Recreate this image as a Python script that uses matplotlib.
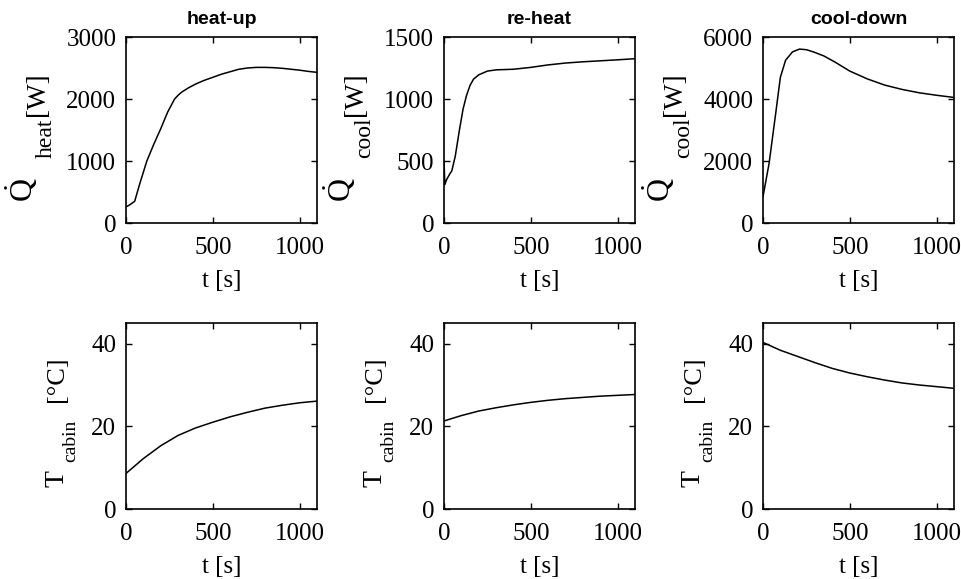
import matplotlib
matplotlib.use("Agg")
import matplotlib.pyplot as plt

plt.rcParams["font.family"] = ["Liberation Serif", "DejaVu Serif"]
plt.rcParams["mathtext.fontset"] = "custom"
plt.rcParams["mathtext.rm"] = "Liberation Serif"
plt.rcParams["mathtext.it"] = "Liberation Serif:italic"
plt.rcParams["mathtext.bf"] = "Liberation Serif:bold"

# heat-up
t_heat = [0, 20, 50, 80, 120, 160, 200, 240, 280, 300, 320, 360, 400, 450, 500,
          550, 600, 650, 700, 750, 800, 850, 900, 950, 1000, 1050, 1100]
q_heat = [260, 290, 350, 640, 1000, 1270, 1520, 1790, 2000, 2060, 2110, 2180, 2240,
          2300, 2350, 2400, 2440, 2480, 2500, 2510, 2510, 2505, 2495, 2480, 2465, 2445, 2430]

# re-heat
t_reheat = [0, 5, 15, 35, 45, 65, 90, 110, 130, 150, 170, 200, 250, 300, 400, 500,
            600, 700, 800, 900, 1000, 1100]
q_reheat = [500, 310, 350, 400, 420, 540, 760, 920, 1030, 1110, 1160, 1195, 1225, 1235,
            1240, 1255, 1275, 1290, 1300, 1308, 1316, 1325]

# cool-down
t_cool = [0, 35, 73, 100, 130, 170, 210, 250, 290, 350, 415, 500, 600, 700,
          800, 900, 1000, 1100]
q_cool = [850, 1920, 3530, 4700, 5250, 5520, 5610, 5590, 5520, 5390, 5190, 4900, 4650,
          4450, 4310, 4200, 4120, 4050]

t_cab = [0, 100, 200, 300, 400, 500, 600, 700, 800, 900, 1000, 1100]
T_heat = [8.6, 12.2, 15.3, 17.8, 19.6, 21.0, 22.3, 23.4, 24.4, 25.1, 25.7, 26.1]
T_reheat = [21.3, 22.6, 23.7, 24.5, 25.2, 25.8, 26.3, 26.7, 27.0, 27.3, 27.5, 27.7]
T_cool = [40.3, 38.4, 36.9, 35.4, 34.0, 32.9, 32.0, 31.2, 30.5, 30.0, 29.6, 29.2]

titles = ["heat-up", "re-heat", "cool-down"]
q_subs = ["heat", "cool", "cool"]
q_lims = [3000, 1500, 6000]
q_ticks = [[0, 1000, 2000, 3000], [0, 500, 1000, 1500], [0, 2000, 4000, 6000]]

W, H = 961, 579
fig = plt.figure(figsize=(9.61, 5.79), dpi=100)
lefts = [126, 444, 763]
w, h = 191 / W, 186 / H
tops = [1 - 223 / H, 1 - 509 / H]

q_series = [(t_heat, q_heat), (t_reheat, q_reheat), (t_cool, q_cool)]
T_series = [T_heat, T_reheat, T_cool]


def vtext(x, y, s, size):
    # rotated label piece, x = baseline position, y = bottom end (pixels from top-left)
    fig.text(x / W, 1 - y / H, s, fontsize=size, rotation=90, rotation_mode="anchor",
             ha="left", va="baseline")


def style(ax):
    ax.set_xlim(0, 1100)
    ax.set_xticks([0, 500, 1000])
    ax.tick_params(direction="in", top=True, right=True, length=4, width=1,
                   labelsize=18)
    ax.tick_params(axis="x", pad=10)
    ax.tick_params(axis="y", pad=7)
    for s in ax.spines.values():
        s.set_linewidth(1.2)
    ax.set_xlabel("t [s]", fontsize=18, labelpad=8)


for i in range(3):
    L = lefts[i]
    ax = fig.add_axes([L / W, tops[0], w, h])
    ax.plot(q_series[i][0], q_series[i][1], color="black", lw=1.1)
    style(ax)
    ax.set_ylim(0, q_lims[i])
    ax.set_yticks(q_ticks[i])
    ax.set_title(titles[i], fontsize=14, fontweight="bold",
                 family=["Liberation Sans", "DejaVu Sans"], pad=9)
    vtext(L - 93, 202, r"$\dot{\mathrm{Q}}$", 23)
    vtext(L - 74, 158, q_subs[i], 17)
    vtext(L - 82, 116, "[W]", 19.5)

    ax = fig.add_axes([L / W, tops[1], w, h])
    ax.plot(t_cab, T_series[i], color="black", lw=1.1)
    style(ax)
    ax.set_ylim(0, 45)
    ax.set_yticks([0, 20, 40])
    vtext(L - 63, 487, "T", 20)
    vtext(L - 51, 462, "cabin", 14)
    vtext(L - 63, 402, "[°C]", 19)

fig.savefig("out.png", dpi=100)
